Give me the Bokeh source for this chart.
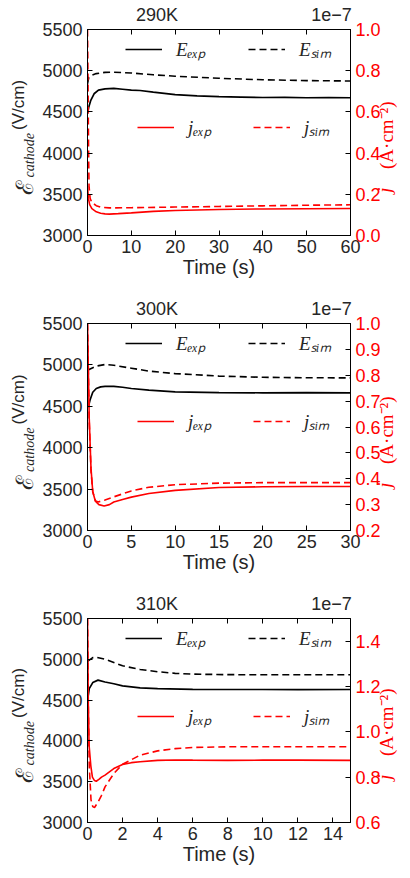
from math import pi
from bokeh.plotting import figure
from bokeh.models import (Range1d, LinearAxis, Legend, LegendItem,
                          FixedTicker, NumeralTickFormatter)
from bokeh.layouts import column
from bokeh.embed import file_html
from bokeh.resources import INLINE

# ---------------- data ----------------
# 290 K
t_E_exp_290 = [0, 0.3, 0.75, 1.5, 2.5, 4, 6, 8, 10, 12, 15, 20, 25, 30, 35, 40, 45, 50, 55, 60]
E_exp_290 = [4480, 4560, 4640, 4720, 4765, 4780, 4785, 4775, 4765, 4760, 4740, 4710, 4695, 4685, 4680, 4675, 4676, 4672, 4674, 4672]
t_E_sim_290 = [0, 0.3, 1, 2, 4, 6, 10, 15, 20, 30, 40, 50, 60]
E_sim_290 = [4840, 4920, 4945, 4965, 4980, 4982, 4972, 4950, 4933, 4908, 4890, 4880, 4875]
t_j_exp_290 = [0, 0.2, 0.5, 1, 2, 3, 4, 5, 7, 10, 15, 20, 30, 40, 50, 60]
j_exp_290 = [0.24, 0.18, 0.15, 0.13, 0.115, 0.108, 0.105, 0.104, 0.106, 0.110, 0.117, 0.121, 0.126, 0.129, 0.130, 0.131]
t_j_sim_290 = [0, 0.1, 0.25, 0.35, 0.6, 1.0, 2, 3, 5, 10, 20, 30, 40, 50, 60]
j_sim_290 = [1.0, 0.8, 0.4, 0.24, 0.18, 0.16, 0.145, 0.137, 0.134, 0.135, 0.138, 0.141, 0.144, 0.147, 0.149]

# 300 K
t_E_exp_300 = [0.1, 0.3, 0.6, 1, 1.5, 2, 3, 4, 5, 7, 10, 15, 20, 25, 30]
E_exp_300 = [4490, 4580, 4670, 4715, 4735, 4740, 4740, 4730, 4715, 4695, 4675, 4665, 4663, 4664, 4663]
t_E_sim_300 = [0, 0.3, 1, 2, 3, 5, 7, 10, 15, 20, 25, 30]
E_sim_300 = [4935, 4950, 4985, 5005, 4995, 4960, 4925, 4895, 4865, 4850, 4845, 4843]
t_j_exp_300 = [0, 0.2, 0.4, 0.6, 0.9, 1.3, 1.9, 2.5, 3, 4, 5, 7, 10, 15, 20, 25, 30]
j_exp_300 = [1.0, 0.63, 0.44, 0.35, 0.313, 0.30, 0.295, 0.30, 0.31, 0.32, 0.329, 0.343, 0.355, 0.366, 0.369, 0.370, 0.370]
t_j_sim_300 = [0, 0.2, 0.4, 0.6, 0.9, 1.2, 2, 3, 5, 7, 10, 15, 20, 25, 30]
j_sim_300 = [1.0, 0.62, 0.43, 0.35, 0.315, 0.31, 0.318, 0.33, 0.353, 0.367, 0.377, 0.383, 0.385, 0.385, 0.385]

# 310 K
t_E_exp_310 = [0, 0.1, 0.3, 0.6, 1, 1.5, 2, 3, 4, 6, 8, 10, 12, 15]
E_exp_310 = [4490, 4640, 4715, 4745, 4722, 4700, 4675, 4650, 4640, 4632, 4630, 4630, 4628, 4630]
t_E_sim_310 = [0, 0.1, 0.3, 0.5, 1, 1.5, 2, 3, 4, 5, 6, 8, 10, 12, 15]
E_sim_310 = [4975, 4990, 5020, 5025, 5000, 4960, 4920, 4875, 4848, 4828, 4818, 4812, 4810, 4810, 4810]
t_j_exp_310 = [0, 0.04, 0.09, 0.19, 0.28, 0.4, 0.5, 0.65, 0.8, 1, 1.5, 2, 2.5, 3, 4, 5, 6, 8, 10, 12, 15]
j_exp_310 = [1.5, 1.15, 0.94, 0.85, 0.80, 0.785, 0.782, 0.79, 0.80, 0.809, 0.838, 0.856, 0.864, 0.868, 0.874, 0.876, 0.875, 0.874, 0.875, 0.875, 0.874]
t_j_sim_310 = [0, 0.05, 0.1, 0.2, 0.3, 0.4, 0.6, 0.8, 1, 1.5, 2, 3, 4, 5, 6, 8, 10, 12, 15]
j_sim_310 = [1.5, 1.1, 0.85, 0.70, 0.67, 0.666, 0.69, 0.72, 0.757, 0.816, 0.857, 0.897, 0.916, 0.926, 0.931, 0.934, 0.934, 0.934, 0.934]

titles = ["290K", "300K", "310K"]
offset_text = "1e−7"
x_max = [60, 30, 15]
x_ticks = [[0, 10, 20, 30, 40, 50, 60], [0, 5, 10, 15, 20, 25, 30], [0, 2, 4, 6, 8, 10, 12, 14]]
E_range = (3000, 5500)
E_ticks = [3000, 3500, 4000, 4500, 5000, 5500]
j_ranges = [(0.0, 1.0), (0.2, 1.0), (0.6, 1.5)]
j_ticks = [[0.0, 0.2, 0.4, 0.6, 0.8, 1.0],
           [0.2, 0.3, 0.4, 0.5, 0.6, 0.7, 0.8, 0.9, 1.0],
           [0.6, 0.8, 1.0, 1.2, 1.4]]
series = [
    (t_E_exp_290, E_exp_290, t_E_sim_290, E_sim_290, t_j_exp_290, j_exp_290, t_j_sim_290, j_sim_290),
    (t_E_exp_300, E_exp_300, t_E_sim_300, E_sim_300, t_j_exp_300, j_exp_300, t_j_sim_300, j_sim_300),
    (t_E_exp_310, E_exp_310, t_E_sim_310, E_sim_310, t_j_exp_310, j_exp_310, t_j_sim_310, j_sim_310),
]
leg_labels = ["Eₑₓₚ", "Eₛᵢₘ", "jₑₓₚ", "jₛᵢₘ"]
x_label = "Time (s)"
EM, FOUR, EN, SIX = "\u2003", "\u2005", "\u2002", "\u2006"
# left label ℰ_cathode(V/cm): three pieces (the spaces only position them)
left_E = "ℰ" + EM * 4 + EN + SIX
left_sub = "cathode" + EM * 3 + FOUR
left_unit = EM * 3 + FOUR + "(V/cm)"
# right label j (A·cm⁻²)
right_j = EM * 2 + FOUR + "j"
right_unit = EM * 3 + EN + "(A·cm⁻²)"

# ---------------- style ----------------
SANS = "Liberation Sans"
SERIF = "Liberation Serif"
TXT = "#262626"
RED = "#ff0000"
DASH = "7 4"
TITLE_FRAC = 0.264    # centre of the panel title, as a fraction of the x range
OFFSET_FRAC = 0.928   # centre of the "1e−7" offset text

fig_h = [294, 295, 287]
b_top = [29, 29, 29]
b_bot = [59, 59, 54]


def base_axis(ax, color_lbl):
    ax.major_tick_in = 5
    ax.major_tick_out = 0
    ax.minor_tick_out = 0
    ax.minor_tick_line_color = None
    ax.major_tick_line_color = "black"
    ax.axis_line_color = "black"
    ax.major_label_text_font = SANS
    ax.major_label_text_font_size = "18px"
    ax.major_label_text_color = color_lbl


def label_only_axis(ax, text, font, style, size, color, standoff):
    ax.axis_line_color = None
    ax.major_tick_line_color = None
    ax.minor_tick_line_color = None
    ax.major_tick_out = 0
    ax.minor_tick_out = 0
    ax.major_tick_in = 0
    ax.axis_label = text
    ax.axis_label_text_font = font
    ax.axis_label_text_font_style = style
    ax.axis_label_text_font_size = size
    ax.axis_label_text_color = color
    ax.axis_label_standoff = standoff


def try_set(ax, name, val):
    try:
        setattr(ax, name, val)
    except Exception:
        pass


figs = []
for i in range(3):
    tEe, Ee, tEs, Es, tje, je, tjs, js = series[i]
    H = fig_h[i] - b_top[i] - b_bot[i]
    p = figure(width=410, height=fig_h[i], output_backend="svg", toolbar_location=None,
               x_range=Range1d(0, x_max[i]), y_range=Range1d(*E_range),
               min_border_left=87, min_border_right=58,
               min_border_top=b_top[i], min_border_bottom=b_bot[i])
    p.extra_y_ranges = {"j": Range1d(*j_ranges[i])}
    p.grid.visible = False
    p.outline_line_color = "black"

    # lines
    r1 = p.line(tEe, Ee, color="black", line_width=1.7)
    r2 = p.line(tEs, Es, color="black", line_width=1.6, line_dash=DASH)
    r3 = p.line(tje, je, color=RED, line_width=1.6, y_range_name="j")
    r4 = p.line(tjs, js, color=RED, line_width=1.6, line_dash=DASH, y_range_name="j")

    # bottom axis
    xa = p.xaxis[0]
    base_axis(xa, TXT)
    xa.ticker = FixedTicker(ticks=x_ticks[i])
    xa.major_label_standoff = 4
    xa.axis_label = x_label
    xa.axis_label_text_font = SANS
    xa.axis_label_text_font_style = "normal"
    xa.axis_label_text_font_size = "20px"
    xa.axis_label_text_color = TXT
    xa.axis_label_standoff = 0

    # left axis (E); its axis label carries the subscript
    ya = p.yaxis[0]
    base_axis(ya, TXT)
    ya.ticker = FixedTicker(ticks=E_ticks)
    ya.major_label_standoff = 5
    ya.axis_label = left_sub
    ya.axis_label_text_font = SERIF
    ya.axis_label_text_font_style = "italic"
    ya.axis_label_text_font_size = "14px"
    ya.axis_label_text_color = TXT
    ya.axis_label_standoff = 2

    ya2 = LinearAxis(ticker=FixedTicker(ticks=[]))
    label_only_axis(ya2, left_unit, SANS, "normal", "17px", TXT, -8)
    p.add_layout(ya2, "left")

    ya3 = LinearAxis(ticker=FixedTicker(ticks=[]))
    label_only_axis(ya3, left_E, SERIF, "normal", "24px", TXT, -32)
    p.add_layout(ya3, "left")

    # top axis: tick marks (as minor ticks) + title and offset text as its labels
    tpos = TITLE_FRAC * x_max[i]
    opos = OFFSET_FRAC * x_max[i]
    top = LinearAxis(ticker=FixedTicker(ticks=[tpos, opos], minor_ticks=x_ticks[i]))
    top.axis_line_color = "black"
    top.major_tick_line_color = None
    top.major_tick_out = 0
    top.major_tick_in = 0
    top.minor_tick_line_color = "black"
    top.minor_tick_in = 5
    top.minor_tick_out = 0
    top.major_label_overrides = {tpos: titles[i], opos: offset_text}
    top.major_label_text_font = SANS
    top.major_label_text_font_size = "18px"
    top.major_label_text_color = TXT
    top.major_label_standoff = 5
    p.add_layout(top, "above")

    # right axis (j)
    ra = LinearAxis(y_range_name="j", ticker=FixedTicker(ticks=j_ticks[i]),
                    formatter=NumeralTickFormatter(format="0.0"))
    base_axis(ra, RED)
    ra.major_label_standoff = 5
    ra.axis_label = right_j
    ra.axis_label_text_font = SERIF
    ra.axis_label_text_font_style = "italic"
    ra.axis_label_text_font_size = "19px"
    ra.axis_label_text_color = RED
    ra.axis_label_standoff = 1
    try_set(ra, "axis_label_orientation", pi / 2)
    try_set(ra, "axis_label_align", "start")
    p.add_layout(ra, "right")

    ra2 = LinearAxis(y_range_name="j", ticker=FixedTicker(ticks=[]))
    label_only_axis(ra2, right_unit, SERIF, "normal", "19px", RED, -22)
    try_set(ra2, "axis_label_orientation", pi / 2)
    try_set(ra2, "axis_label_align", "start")
    p.add_layout(ra2, "right")

    # legends (one item each, placed as in the reference)
    def add_leg(r, lab, x, y):
        lg = Legend(items=[LegendItem(label=lab, renderers=[r])], location=(x, y),
                    orientation="horizontal", padding=0, margin=0, spacing=0,
                    glyph_width=37, glyph_height=20, label_height=20, label_standoff=14,
                    border_line_color=None, background_fill_alpha=0,
                    label_text_font=SERIF, label_text_font_style="italic",
                    label_text_font_size="19px", label_text_color=TXT)
        p.add_layout(lg, "center")

    add_leg(r1, leg_labels[0], 38, H - 23 - 10)
    add_leg(r2, leg_labels[1], 161, H - 23 - 10)
    add_leg(r3, leg_labels[2], 50, H - 101 - 10)
    add_leg(r4, leg_labels[3], 166, H - 101 - 10)

    figs.append(p)

layout = column(*figs, spacing=0)
open("out.html", "w").write(file_html(layout, INLINE))
